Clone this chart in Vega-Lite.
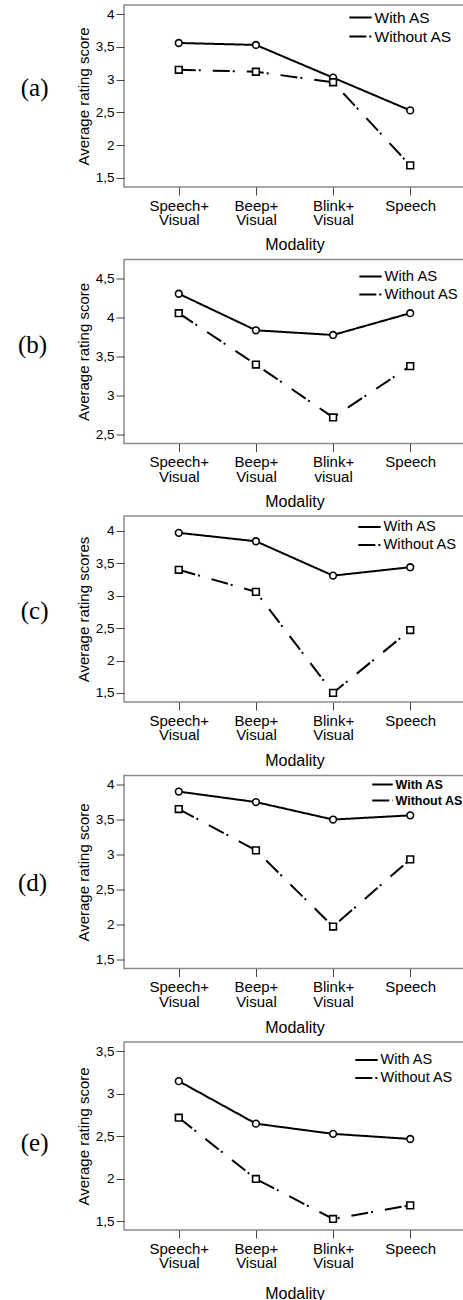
{
  "$schema": "https://vega.github.io/schema/vega-lite/v6.json",
  "background": "white",
  "padding": {"left": 17, "top": 4, "right": 0, "bottom": 0},
  "spacing": 4.5,
  "data": {"values": [
    {"panel": "a", "modality": "Speech+ Visual", "condition": "With AS", "score": 3.56},
    {"panel": "a", "modality": "Beep+ Visual", "condition": "With AS", "score": 3.53},
    {"panel": "a", "modality": "Blink+ Visual", "condition": "With AS", "score": 3.03},
    {"panel": "a", "modality": "Speech", "condition": "With AS", "score": 2.53},
    {"panel": "a", "modality": "Speech+ Visual", "condition": "Without AS", "score": 3.15},
    {"panel": "a", "modality": "Beep+ Visual", "condition": "Without AS", "score": 3.12},
    {"panel": "a", "modality": "Blink+ Visual", "condition": "Without AS", "score": 2.96},
    {"panel": "a", "modality": "Speech", "condition": "Without AS", "score": 1.69},
    {"panel": "b", "modality": "Speech+ Visual", "condition": "With AS", "score": 4.31},
    {"panel": "b", "modality": "Beep+ Visual", "condition": "With AS", "score": 3.84},
    {"panel": "b", "modality": "Blink+ visual", "condition": "With AS", "score": 3.78},
    {"panel": "b", "modality": "Speech", "condition": "With AS", "score": 4.06},
    {"panel": "b", "modality": "Speech+ Visual", "condition": "Without AS", "score": 4.06},
    {"panel": "b", "modality": "Beep+ Visual", "condition": "Without AS", "score": 3.40},
    {"panel": "b", "modality": "Blink+ visual", "condition": "Without AS", "score": 2.72},
    {"panel": "b", "modality": "Speech", "condition": "Without AS", "score": 3.38},
    {"panel": "c", "modality": "Speech+ Visual", "condition": "With AS", "score": 3.97},
    {"panel": "c", "modality": "Beep+ Visual", "condition": "With AS", "score": 3.84},
    {"panel": "c", "modality": "Blink+ Visual", "condition": "With AS", "score": 3.31},
    {"panel": "c", "modality": "Speech", "condition": "With AS", "score": 3.44},
    {"panel": "c", "modality": "Speech+ Visual", "condition": "Without AS", "score": 3.40},
    {"panel": "c", "modality": "Beep+ Visual", "condition": "Without AS", "score": 3.06},
    {"panel": "c", "modality": "Blink+ Visual", "condition": "Without AS", "score": 1.50},
    {"panel": "c", "modality": "Speech", "condition": "Without AS", "score": 2.47},
    {"panel": "d", "modality": "Speech+ Visual", "condition": "With AS", "score": 3.90},
    {"panel": "d", "modality": "Beep+ Visual", "condition": "With AS", "score": 3.75},
    {"panel": "d", "modality": "Blink+ Visual", "condition": "With AS", "score": 3.50},
    {"panel": "d", "modality": "Speech", "condition": "With AS", "score": 3.56},
    {"panel": "d", "modality": "Speech+ Visual", "condition": "Without AS", "score": 3.65},
    {"panel": "d", "modality": "Beep+ Visual", "condition": "Without AS", "score": 3.06},
    {"panel": "d", "modality": "Blink+ Visual", "condition": "Without AS", "score": 1.97},
    {"panel": "d", "modality": "Speech", "condition": "Without AS", "score": 2.93},
    {"panel": "e", "modality": "Speech+ Visual", "condition": "With AS", "score": 3.15},
    {"panel": "e", "modality": "Beep+ Visual", "condition": "With AS", "score": 2.65},
    {"panel": "e", "modality": "Blink+ Visual", "condition": "With AS", "score": 2.53},
    {"panel": "e", "modality": "Speech", "condition": "With AS", "score": 2.47},
    {"panel": "e", "modality": "Speech+ Visual", "condition": "Without AS", "score": 2.72},
    {"panel": "e", "modality": "Beep+ Visual", "condition": "Without AS", "score": 2.00},
    {"panel": "e", "modality": "Blink+ Visual", "condition": "Without AS", "score": 1.53},
    {"panel": "e", "modality": "Speech", "condition": "Without AS", "score": 1.69}
  ]},
  "vconcat": [
    {
      "title": {"text": "(a)", "orient": "left", "angle": 0, "align": "right", "baseline": "middle", "anchor": "middle", "offset": 0, "dy": -8, "font": "Liberation Serif", "fontSize": 25, "fontWeight": "normal", "color": "black"},
      "width": 341, "height": 182,
      "transform": [{"filter": "datum.panel == 'a'"}],
      "encoding": {
        "x": {"field": "modality", "type": "nominal", "sort": null, "scale": {"type": "point", "padding": 0.71}, "axis": {"title": "Modality", "titlePadding": 9, "labelExpr": "split(datum.value, ' ')"}},
        "y": {"field": "score", "type": "quantitative", "scale": {"domain": [1.36, 4.14], "nice": false, "zero": false}, "axis": {"title": "Average rating score", "values": [1.5, 2, 2.5, 3, 3.5, 4], "labelExpr": "replace('' + datum.value, '.', ',')"}}
      },
      "layer": [
        {"mark": {"type": "line", "stroke": "black", "strokeWidth": 2},
         "encoding": {"strokeDash": {"field": "condition", "type": "nominal", "scale": {"domain": ["With AS", "Without AS"], "range": [[1, 0], [17, 3, 2, 12]]}, "legend": {"orient": "none", "legendX": 224, "legendY": 3, "clipHeight": 19, "labelFontSize": 15.5}}}},
        {"transform": [{"filter": "datum.condition == 'With AS'"}], "mark": {"type": "point", "shape": "circle", "filled": true, "fill": "white", "stroke": "black", "strokeWidth": 1.6, "size": 45, "opacity": 1}},
        {"transform": [{"filter": "datum.condition == 'Without AS'"}], "mark": {"type": "point", "shape": "square", "filled": true, "fill": "white", "stroke": "black", "strokeWidth": 1.6, "size": 45, "opacity": 1}}
      ]
    },
    {
      "title": {"text": "(b)", "orient": "left", "angle": 0, "align": "right", "baseline": "middle", "anchor": "middle", "offset": 0, "dy": -7, "font": "Liberation Serif", "fontSize": 25, "fontWeight": "normal", "color": "black"},
      "width": 341, "height": 184,
      "transform": [{"filter": "datum.panel == 'b'"}],
      "encoding": {
        "x": {"field": "modality", "type": "nominal", "sort": null, "scale": {"type": "point", "padding": 0.71}, "axis": {"title": "Modality", "titlePadding": 9.5, "labelExpr": "split(datum.value, ' ')"}},
        "y": {"field": "score", "type": "quantitative", "scale": {"domain": [2.385, 4.75], "nice": false, "zero": false}, "axis": {"title": "Average rating score", "values": [2.5, 3, 3.5, 4, 4.5], "labelExpr": "replace('' + datum.value, '.', ',')"}}
      },
      "layer": [
        {"mark": {"type": "line", "stroke": "black", "strokeWidth": 2},
         "encoding": {"strokeDash": {"field": "condition", "type": "nominal", "scale": {"domain": ["With AS", "Without AS"], "range": [[1, 0], [17, 3, 2, 12]]}, "legend": {"orient": "none", "legendX": 234, "legendY": 8, "clipHeight": 18, "labelFontSize": 14.8}}}},
        {"transform": [{"filter": "datum.condition == 'With AS'"}], "mark": {"type": "point", "shape": "circle", "filled": true, "fill": "white", "stroke": "black", "strokeWidth": 1.6, "size": 45, "opacity": 1}},
        {"transform": [{"filter": "datum.condition == 'Without AS'"}], "mark": {"type": "point", "shape": "square", "filled": true, "fill": "white", "stroke": "black", "strokeWidth": 1.6, "size": 45, "opacity": 1}}
      ]
    },
    {
      "title": {"text": "(c)", "orient": "left", "angle": 0, "align": "right", "baseline": "middle", "anchor": "middle", "offset": 0, "dy": 2, "font": "Liberation Serif", "fontSize": 25, "fontWeight": "normal", "color": "black"},
      "width": 341, "height": 186,
      "transform": [{"filter": "datum.panel == 'c'"}],
      "encoding": {
        "x": {"field": "modality", "type": "nominal", "sort": null, "scale": {"type": "point", "padding": 0.71}, "axis": {"title": "Modality", "titlePadding": 10, "labelExpr": "split(datum.value, ' ')"}},
        "y": {"field": "score", "type": "quantitative", "scale": {"domain": [1.36, 4.23], "nice": false, "zero": false}, "axis": {"title": "Average rating scores", "values": [1.5, 2, 2.5, 3, 3.5, 4], "labelExpr": "replace('' + datum.value, '.', ',')"}}
      },
      "layer": [
        {"mark": {"type": "line", "stroke": "black", "strokeWidth": 2},
         "encoding": {"strokeDash": {"field": "condition", "type": "nominal", "scale": {"domain": ["With AS", "Without AS"], "range": [[1, 0], [17, 3, 2, 12]]}, "legend": {"orient": "none", "legendX": 233, "legendY": 2, "clipHeight": 18, "labelFontSize": 14.7}}}},
        {"transform": [{"filter": "datum.condition == 'With AS'"}], "mark": {"type": "point", "shape": "circle", "filled": true, "fill": "white", "stroke": "black", "strokeWidth": 1.6, "size": 45, "opacity": 1}},
        {"transform": [{"filter": "datum.condition == 'Without AS'"}], "mark": {"type": "point", "shape": "square", "filled": true, "fill": "white", "stroke": "black", "strokeWidth": 1.6, "size": 45, "opacity": 1}}
      ]
    },
    {
      "title": {"text": "(d)", "orient": "left", "angle": 0, "align": "right", "baseline": "middle", "anchor": "middle", "offset": 0, "dy": 11, "font": "Liberation Serif", "fontSize": 25, "fontWeight": "normal", "color": "black"},
      "width": 341, "height": 193,
      "transform": [{"filter": "datum.panel == 'd'"}],
      "encoding": {
        "x": {"field": "modality", "type": "nominal", "sort": null, "scale": {"type": "point", "padding": 0.71}, "axis": {"title": "Modality", "titlePadding": 10, "labelExpr": "split(datum.value, ' ')"}},
        "y": {"field": "score", "type": "quantitative", "scale": {"domain": [1.37, 4.13], "nice": false, "zero": false}, "axis": {"title": "Average rating score", "values": [1.5, 2, 2.5, 3, 3.5, 4], "labelExpr": "replace('' + datum.value, '.', ',')"}}
      },
      "layer": [
        {"mark": {"type": "line", "stroke": "black", "strokeWidth": 2},
         "encoding": {"strokeDash": {"field": "condition", "type": "nominal", "scale": {"domain": ["With AS", "Without AS"], "range": [[1, 0], [17, 3, 2, 12]]}, "legend": {"orient": "none", "legendX": 247, "legendY": 1, "clipHeight": 16, "labelFontSize": 12.5, "labelFontWeight": "bold", "symbolSize": 420}}}},
        {"transform": [{"filter": "datum.condition == 'With AS'"}], "mark": {"type": "point", "shape": "circle", "filled": true, "fill": "white", "stroke": "black", "strokeWidth": 1.6, "size": 45, "opacity": 1}},
        {"transform": [{"filter": "datum.condition == 'Without AS'"}], "mark": {"type": "point", "shape": "square", "filled": true, "fill": "white", "stroke": "black", "strokeWidth": 1.6, "size": 45, "opacity": 1}}
      ]
    },
    {
      "title": {"text": "(e)", "orient": "left", "angle": 0, "align": "right", "baseline": "middle", "anchor": "middle", "offset": 0, "dy": 7, "font": "Liberation Serif", "fontSize": 25, "fontWeight": "normal", "color": "black"},
      "width": 341, "height": 188,
      "transform": [{"filter": "datum.panel == 'e'"}],
      "encoding": {
        "x": {"field": "modality", "type": "nominal", "sort": null, "scale": {"type": "point", "padding": 0.71}, "axis": {"title": "Modality", "titlePadding": 14.5, "labelExpr": "split(datum.value, ' ')"}},
        "y": {"field": "score", "type": "quantitative", "scale": {"domain": [1.40, 3.61], "nice": false, "zero": false}, "axis": {"title": "Average rating score", "values": [1.5, 2, 2.5, 3, 3.5], "labelExpr": "replace('' + datum.value, '.', ',')"}}
      },
      "layer": [
        {"mark": {"type": "line", "stroke": "black", "strokeWidth": 2},
         "encoding": {"strokeDash": {"field": "condition", "type": "nominal", "scale": {"domain": ["With AS", "Without AS"], "range": [[1, 0], [17, 3, 2, 12]]}, "legend": {"orient": "none", "legendX": 230, "legendY": 9, "clipHeight": 18, "labelFontSize": 14.5}}}},
        {"transform": [{"filter": "datum.condition == 'With AS'"}], "mark": {"type": "point", "shape": "circle", "filled": true, "fill": "white", "stroke": "black", "strokeWidth": 1.6, "size": 45, "opacity": 1}},
        {"transform": [{"filter": "datum.condition == 'Without AS'"}], "mark": {"type": "point", "shape": "square", "filled": true, "fill": "white", "stroke": "black", "strokeWidth": 1.6, "size": 45, "opacity": 1}}
      ]
    }
  ],
  "resolve": {
    "scale": {"x": "independent", "y": "independent", "strokeDash": "independent"},
    "legend": {"strokeDash": "independent"},
    "axis": {"x": "independent", "y": "independent"}
  },
  "config": {
    "font": "Liberation Sans",
    "view": {"stroke": "#8c8c8c", "strokeWidth": 1.5},
    "axis": {"domain": false, "grid": false, "tickSize": 8, "tickColor": "#444", "tickWidth": 1, "labelColor": "black", "titleColor": "black", "labelFont": "Liberation Sans", "titleFont": "Liberation Sans", "titleFontWeight": "normal"},
    "axisX": {"labelFontSize": 15, "labelLineHeight": 14.5, "labelPadding": 3, "labelAngle": 0, "titleFontSize": 16, "titlePadding": 10},
    "axisY": {"labelFontSize": 13.5, "labelPadding": 2, "titleFontSize": 15, "titlePadding": 4},
    "legend": {"title": null, "labelFont": "Liberation Sans", "labelFontSize": 15, "labelColor": "black", "symbolType": "stroke", "symbolStrokeColor": "black", "symbolStrokeWidth": 2, "symbolSize": 500, "labelOffset": 1.5, "rowPadding": 0}
  }
}
